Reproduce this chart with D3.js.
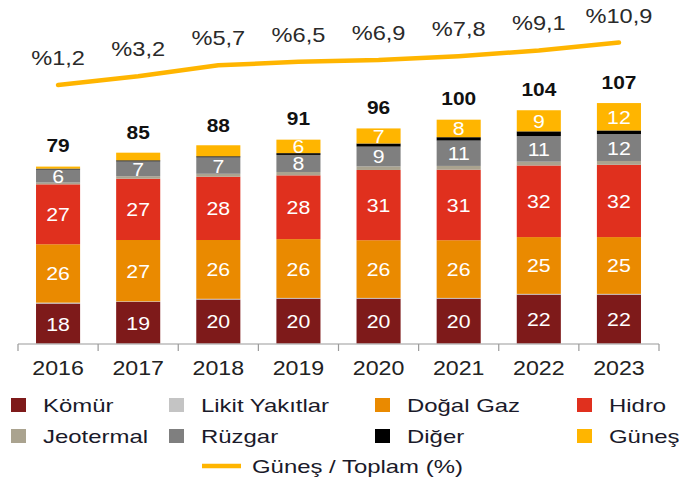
<!DOCTYPE html>
<html>
<head>
<meta charset="utf-8">
<script src="https://cdn.jsdelivr.net/npm/d3@7"></script>
<style>
  body { margin: 0; background: #fff; }
  svg { display: block; font-family: "Liberation Sans", Arial, sans-serif; }
</style>
</head>
<body>
<div id="chart"></div>
<script>
// Installed capacity (GW) by source
const years = ["2016", "2017", "2018", "2019", "2020", "2021", "2022", "2023"];
const komur     = [17.8, 18.6, 19.6, 20.0, 20.0, 20.0, 21.8, 21.8];
const likit     = [0.4, 0.2, 0.3, 0.3, 0.3, 0.3, 0.3, 0.3];
const dogalGaz  = [26.0, 27.3, 26.2, 26.2, 25.7, 25.7, 25.3, 25.3];
const hidro     = [26.7, 27.3, 28.2, 28.4, 31.3, 31.4, 31.9, 32.2];
const jeotermal = [0.8, 1.1, 1.3, 1.5, 1.6, 1.7, 1.7, 1.7];
const ruzgar    = [5.8, 6.6, 7.3, 7.6, 8.8, 11.3, 11.4, 12.0];
const diger     = [0.4, 0.5, 0.5, 0.8, 1.4, 1.5, 2.1, 1.6];
const gunes     = [0.9, 3.4, 4.9, 6.0, 6.7, 7.8, 9.4, 12.2];
const totals    = [79, 85, 88, 91, 96, 100, 104, 107];
const gunesPay  = [1.2, 3.2, 5.7, 6.5, 6.9, 7.8, 9.1, 10.9];

const series = [
  { key: "komur", name: "Kömür", values: komur, color: "#7e1a1a" },
  { key: "likit", name: "Likit Yakıtlar", values: likit, color: "#c4c4c4" },
  { key: "gaz", name: "Doğal Gaz", values: dogalGaz, color: "#ea8a00" },
  { key: "hidro", name: "Hidro", values: hidro, color: "#e0301e" },
  { key: "jeo", name: "Jeotermal", values: jeotermal, color: "#aaa38f" },
  { key: "ruzgar", name: "Rüzgar", values: ruzgar, color: "#7f7f7f" },
  { key: "diger", name: "Diğer", values: diger, color: "#000000" },
  { key: "gunes", name: "Güneş", values: gunes, color: "#ffb500" }
];

const width = 682, height = 477;
const lineColor = "#ffb500";

const table = years.map((year, i) => {
  const row = { year };
  series.forEach(s => row[s.key] = s.values[i]);
  return row;
});
const stacked = d3.stack().keys(series.map(s => s.key))(table);

const x = d3.scaleBand()
  .domain(years)
  .range([18, 659])
  .paddingInner(0.45)
  .paddingOuter(0.225);

const y = d3.scaleLinear()
  .domain([0, 110])
  .range([343.5, 343.5 - 110 * 2.245]);

const yPct = d3.scaleLinear()
  .domain([0, 20])
  .range([90.3, 2.7]);

const svg = d3.select("#chart").append("svg")
  .attr("width", width)
  .attr("height", height)
  .attr("viewBox", `0 0 ${width} ${height}`);

// bars
const layers = svg.append("g")
  .selectAll("g")
  .data(stacked)
  .join("g")
  .attr("fill", (d, i) => series[i].color);

layers.selectAll("rect")
  .data(d => d)
  .join("rect")
  .attr("x", d => x(d.data.year))
  .attr("y", d => y(d[1]))
  .attr("width", x.bandwidth())
  .attr("height", d => y(d[0]) - y(d[1]));

// segment labels (only the big enough ones)
layers.selectAll("text")
  .data(d => d.filter(p => p[1] - p[0] >= 5.5))
  .join("text")
  .attr("transform", d => `translate(${x(d.data.year) + x.bandwidth() / 2},${(y(d[0]) + y(d[1])) / 2 + 7}) scale(1.12,1)`)
  .attr("text-anchor", "middle")
  .attr("fill", "#fff")
  .style("font-size", "19px")
  .text(d => Math.round(d[1] - d[0]));

// totals
svg.append("g")
  .selectAll("text")
  .data(totals)
  .join("text")
  .attr("transform", (d, i) => `translate(${x(years[i]) + x.bandwidth() / 2},${y(d) - 14}) scale(1.1,1)`)
  .attr("text-anchor", "middle")
  .attr("fill", "#111")
  .style("font-size", "19px")
  .style("font-weight", "bold")
  .text(d => d);

// axis
const axisY = 344;
const axis = svg.append("g")
  .attr("transform", `translate(0,${axisY})`);

axis.append("line")
  .attr("x1", x.range()[0]).attr("x2", x.range()[1])
  .attr("stroke", "#9a9a9a").attr("stroke-width", 1.2);

const edges = years.map(yr => x(yr) - x.step() * x.paddingInner() / 2).concat([x.range()[1]]);
axis.selectAll("line.edge")
  .data(edges)
  .join("line")
  .attr("class", "edge")
  .attr("x1", d => d).attr("x2", d => d)
  .attr("y1", 0).attr("y2", 7)
  .attr("stroke", "#9a9a9a").attr("stroke-width", 1.2);

const labelAxis = svg.append("g")
  .attr("transform", `translate(0,${axisY})`)
  .call(d3.axisBottom(x).tickSize(0).tickPadding(17))
  .call(g => g.select(".domain").remove());

labelAxis.selectAll("text")
  .attr("fill", "#222")
  .style("font-size", "20px")
  .style("font-family", "\"Liberation Sans\", Arial, sans-serif")
  .attr("transform", "scale(1.16,1)");

// solar share line
const line = d3.line()
  .x((d, i) => x(years[i]) + x.bandwidth() / 2)
  .y(d => yPct(d));

svg.append("path")
  .datum(gunesPay)
  .attr("d", line)
  .attr("fill", "none")
  .attr("stroke", lineColor)
  .attr("stroke-width", 4.5)
  .attr("stroke-linecap", "round")
  .attr("stroke-linejoin", "round");

svg.append("g")
  .selectAll("text")
  .data(gunesPay)
  .join("text")
  .attr("transform", (d, i) => `translate(${x(years[i]) + x.bandwidth() / 2},${yPct(d) - 20}) scale(1.18,1)`)
  .attr("text-anchor", "middle")
  .attr("fill", "#2a2a2a")
  .style("font-size", "20px")
  .text(d => "%" + d.toFixed(1).replace(".", ","));

// legend
const legendCols = [11, 169, 375, 577];
const legendRows = [405, 436];
const legend = svg.append("g");

const items = legend.selectAll("g")
  .data(series)
  .join("g")
  .attr("transform", (d, i) => `translate(${legendCols[i % 4]},${legendRows[Math.floor(i / 4)]})`);

items.append("rect")
  .attr("x", 0).attr("y", -7)
  .attr("width", 15).attr("height", 14)
  .attr("fill", d => d.color);

items.append("text")
  .attr("transform", "translate(32,6.5) scale(1.33,1)")
  .attr("fill", "#1a1a2a")
  .style("font-size", "18px")
  .text(d => d.name);

const lineLegend = legend.append("g")
  .attr("transform", "translate(202,466)");

lineLegend.append("line")
  .attr("x1", 0).attr("x2", 39)
  .attr("stroke", lineColor)
  .attr("stroke-width", 4.5);

lineLegend.append("text")
  .attr("transform", "translate(50,6.5) scale(1.33,1)")
  .attr("fill", "#1a1a2a")
  .style("font-size", "18px")
  .text("Güneş / Toplam (%)");
</script>
</body>
</html>
